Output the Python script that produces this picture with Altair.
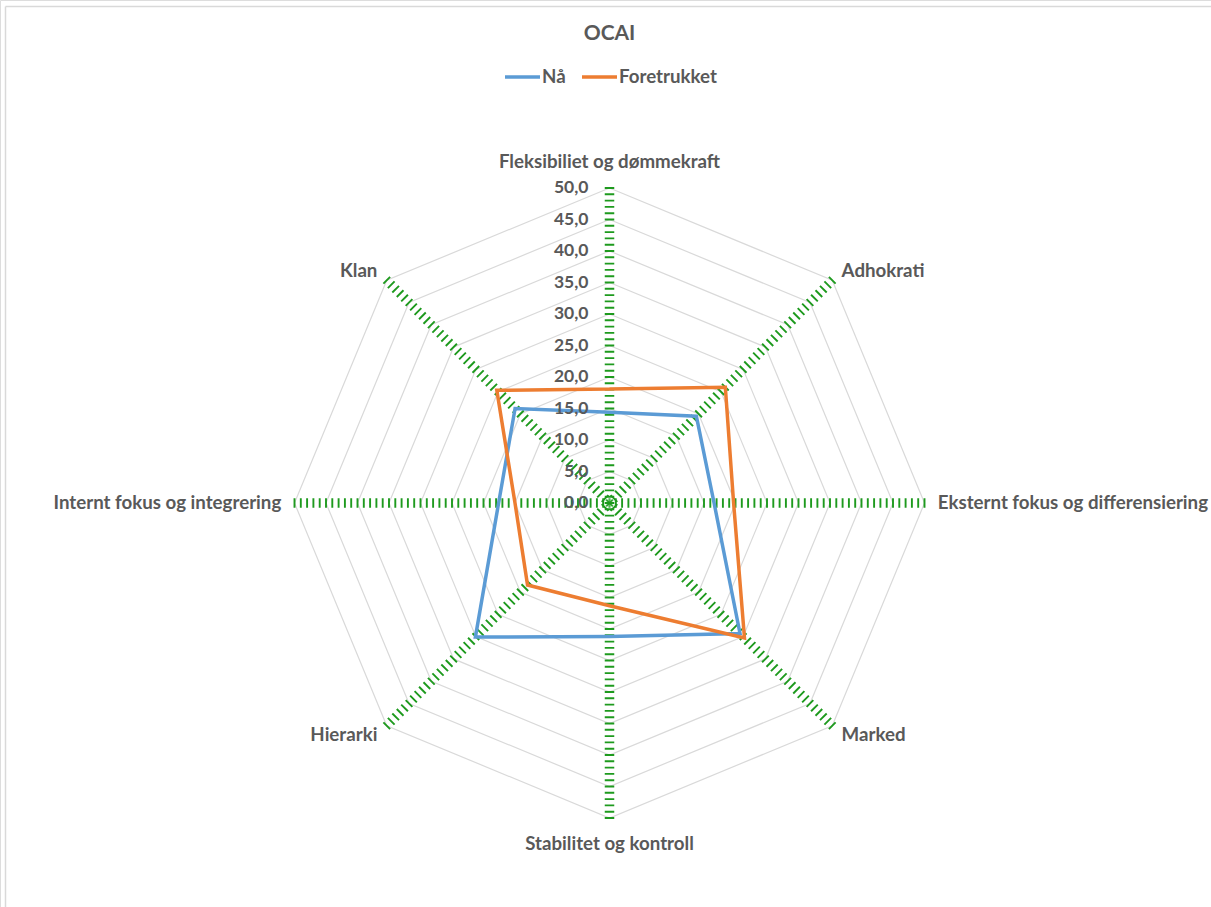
import altair as alt
import numpy as np
import pandas as pd

# Radar axes, clockwise from the top
categories = [
    "Fleksibiliet og dømmekraft",
    "Adhokrati",
    "Eksternt fokus og differensiering",
    "Marked",
    "Stabilitet og kontroll",
    "Hierarki",
    "Internt fokus og integrering",
    "Klan",
]
series_names = ["Nå", "Foretrukket"]
na_values = [14.4, 19.5, 16.6, 29.3, 21.2, 30.1, 17.6, 21.2]
foretrukket_values = [18.1, 26.0, 19.7, 30.3, 16.3, 18.4, 15.0, 25.3]
series_colors = ["#5b9bd5", "#ed7d31"]
value_ticks = [0, 5, 10, 15, 20, 25, 30, 35, 40, 45, 50]
ring_levels = value_ticks[1:]
r_max = 50

# Canvas geometry (pixels) and radial scale
W, H = 1211, 907
CX, CY = 609.5, 503
PX_PER_UNIT = 6.3
x_dom = [-CX / PX_PER_UNIT, (W - CX) / PX_PER_UNIT]
y_dom = [-(H - CY) / PX_PER_UNIT, CY / PX_PER_UNIT]

FONT = "Lato"
TEXT_COLOR = "#595959"
GRID_COLOR = "#d9d9d9"
TICK_COLOR = "#1e9a1e"
LABEL_SIZE = 18.7

n = len(categories)
angles = [2 * np.pi * i / n for i in range(n)]


def polar(r, a):
    return r * np.sin(a), r * np.cos(a)


# Concentric octagon gridlines
ring_rows = []
for lvl in ring_levels:
    for k in range(n + 1):
        x, y = polar(lvl, angles[k % n])
        ring_rows.append({"level": lvl, "k": k, "x": x, "y": y})
rings = pd.DataFrame(ring_rows)

# Spokes carrying the value-axis tick marks
spoke_rows = []
for i, a in enumerate(angles):
    x2, y2 = polar(r_max + 0.2, a)
    spoke_rows.append({"cat": categories[i], "x": 0.0, "y": 0.0, "x2": x2, "y2": y2})
spokes = pd.DataFrame(spoke_rows)

# Series polygons (closed by repeating the first vertex)
series_rows = []
for name, vals in zip(series_names, [na_values, foretrukket_values]):
    for k in range(n + 1):
        v = vals[k % n]
        x, y = polar(v, angles[k % n])
        series_rows.append({"serie": name, "k": k, "verdi": v, "x": x, "y": y})
series_df = pd.DataFrame(series_rows)

# Value labels along the vertical axis
tick_df = pd.DataFrame(
    {"v": value_ticks, "zero": 0.0,
     "label": [f"{v:.1f}".replace(".", ",") for v in value_ticks]}
)

# Category labels placed just outside the outer ring
lab_rows = []
for i, a in enumerate(angles):
    s = np.sin(a)
    if abs(s) < 1e-6:
        side = "center"
        r_lab = 54.2
    else:
        side = "left" if s > 0 else "right"
        r_lab = 52.1
    x, y = polar(r_lab, a)
    lab_rows.append({"cat": categories[i], "side": side, "x": x, "y": y})
labels_df = pd.DataFrame(lab_rows)

xs = alt.Scale(domain=x_dom, nice=False, zero=False)
ys = alt.Scale(domain=y_dom, nice=False, zero=False)


def X(f="x"):
    return alt.X(f, type="quantitative", scale=xs, axis=None)


def Y(f="y"):
    return alt.Y(f, type="quantitative", scale=ys, axis=None)


# Chart-area border (top and left edges fall inside the canvas)
border_top = alt.Chart(pd.DataFrame({"a": [0]})).mark_rule(
    color=GRID_COLOR, strokeWidth=1.5
).encode(x=alt.value(5.5), x2=alt.value(W), y=alt.value(6.5))
border_left = alt.Chart(pd.DataFrame({"a": [0]})).mark_rule(
    color=GRID_COLOR, strokeWidth=1.5
).encode(x=alt.value(5.5), y=alt.value(6.5), y2=alt.value(H))

ring_layer = alt.Chart(rings).mark_line(color=GRID_COLOR, strokeWidth=1.2).encode(
    x=X(), y=Y(), detail="level:N", order="k:Q"
)

tick_layer = alt.Chart(spokes).mark_rule(
    color=TICK_COLOR, strokeWidth=9.5, strokeDash=[1.9, 4.4], strokeDashOffset=0.95,
    strokeCap="butt",
).encode(x=X(), y=Y(), x2="x2:Q", y2="y2:Q")

color_enc = alt.Color(
    "serie:N",
    scale=alt.Scale(domain=series_names, range=series_colors),
    legend=alt.Legend(
        title=None,
        orient="none",
        direction="horizontal",
        legendX=503,
        legendY=57,
        symbolType="stroke",
        symbolStrokeWidth=3.5,
        symbolSize=1225,
        labelFont=FONT,
        labelFontSize=LABEL_SIZE,
        labelFontWeight="bold",
        labelColor=TEXT_COLOR,
        labelOffset=0,
        columnPadding=9,
    ),
)

line_layers = [
    alt.Chart(series_df).transform_filter(alt.datum.serie == name).mark_line(
        strokeWidth=3.5
    ).encode(x=X(), y=Y(), order="k:Q", color=color_enc)
    for name in series_names
]

value_labels = alt.Chart(tick_df).mark_text(
    font=FONT, fontSize=17.5, fontWeight="bold", color=TEXT_COLOR,
    align="right", baseline="middle", dx=-21,
).encode(x=X("zero"), y=Y("v"), text="label:N")

cat_layers = [
    alt.Chart(labels_df).transform_filter(alt.datum.side == side).mark_text(
        font=FONT, fontSize=LABEL_SIZE, fontWeight="bold", color=TEXT_COLOR,
        align=side, baseline="middle",
    ).encode(x=X(), y=Y(), text="cat:N")
    for side in ["left", "right", "center"]
]

title_layer = alt.Chart(pd.DataFrame({"t": ["OCAI"]})).mark_text(
    font=FONT, fontSize=21, fontWeight="bold", color=TEXT_COLOR,
    align="center", baseline="middle",
).encode(x=alt.value(CX), y=alt.value(34), text="t:N")

chart = alt.layer(
    border_top, border_left, ring_layer, tick_layer, *line_layers,
    value_labels, *cat_layers, title_layer
).properties(
    width=W, height=H, padding=0, autosize=alt.AutoSizeParams(type="none")
).configure_view(stroke=None).configure(background="white")

chart.save("out.html", embed_options={"renderer": "svg", "actions": False})
